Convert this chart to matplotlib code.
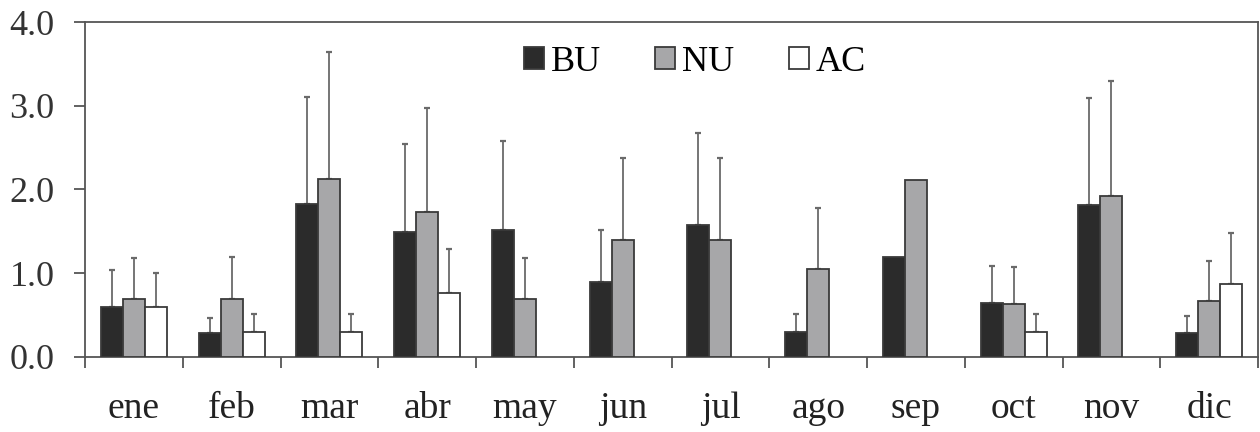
import matplotlib.pyplot as plt
import numpy as np

# monthly means and upper SD
months = ['ene', 'feb', 'mar', 'abr', 'may', 'jun', 'jul', 'ago', 'sep', 'oct', 'nov', 'dic']
bu = [0.60, 0.28, 1.82, 1.49, 1.51, 0.90, 1.57, 0.30, 1.19, 0.64, 1.81, 0.29]
bu_top = [1.04, 0.46, 3.10, 2.54, 2.58, 1.52, 2.68, 0.51, np.nan, 1.09, 3.09, 0.49]
nu = [0.69, 0.69, 2.13, 1.73, 0.69, 1.39, 1.39, 1.05, 2.11, 0.63, 1.92, 0.67]
nu_top = [1.18, 1.19, 3.64, 2.97, 1.18, 2.37, 2.37, 1.78, np.nan, 1.07, 3.30, 1.15]
ac = [0.60, 0.30, 0.30, 0.76, np.nan, np.nan, np.nan, np.nan, np.nan, 0.30, np.nan, 0.87]
ac_top = [1.00, 0.51, 0.51, 1.29, np.nan, np.nan, np.nan, np.nan, np.nan, 0.51, np.nan, 1.48]

plt.rcParams['font.family'] = ['Liberation Serif', 'DejaVu Serif']

fig = plt.figure(figsize=(12.6, 4.32), dpi=100)
ax = fig.add_axes([0.0675, 0.174, 0.931, 0.775])

x = np.arange(len(months))
w = 0.225
series = [
    ('BU', bu, bu_top, '#2b2b2b'),
    ('NU', nu, nu_top, '#a7a7a9'),
    ('AC', ac, ac_top, '#ffffff'),
]
for i, (name, vals, tops, col) in enumerate(series):
    vals = np.array(vals, dtype=float)
    err = np.array(tops, dtype=float) - vals
    pos = x + (i - 1) * w
    has = ~np.isnan(vals)
    ax.bar(pos[has], vals[has], width=w, color=col, edgecolor='#3a3a3a',
           linewidth=1.3, label=name, zorder=3)
    ok = ~np.isnan(err)
    ax.errorbar(pos[ok], vals[ok], yerr=[np.zeros(ok.sum()), err[ok]],
                fmt='none', ecolor='#6a6a6a', elinewidth=1.3, capsize=2.3,
                capthick=1.6, zorder=2)

ax.set_xlim(-0.5, len(months) - 0.5)
ax.set_ylim(0, 4.0)
ax.set_yticks([0, 1, 2, 3, 4])
ax.set_yticklabels(['0.0', '1.0', '2.0', '3.0', '4.0'])

# boundary ticks without labels, month names at centers
ax.set_xticks(np.arange(-0.5, len(months), 1.0))
ax.set_xticklabels([])
ax.set_xticks(x, minor=True)
ax.set_xticklabels(months, minor=True)
ax.tick_params(axis='x', which='minor', length=0, pad=25, labelsize=27,
               labelcolor='#222222')
ax.tick_params(axis='x', which='major', length=8, width=1.3, color='#555555')
ax.tick_params(axis='y', length=8, width=1.3, color='#555555', pad=14,
               labelsize=26, labelcolor='#333333')

for s in ax.spines.values():
    s.set_color('#555555')
    s.set_linewidth(1.3)

ax.legend(loc='upper center', bbox_to_anchor=(0.52, 1.0), ncol=3, frameon=False,
          fontsize=26, handlelength=0.55, handleheight=0.55, handletextpad=0.2,
          columnspacing=1.5, borderaxespad=0.25)

plt.savefig('out.png', dpi=100)
